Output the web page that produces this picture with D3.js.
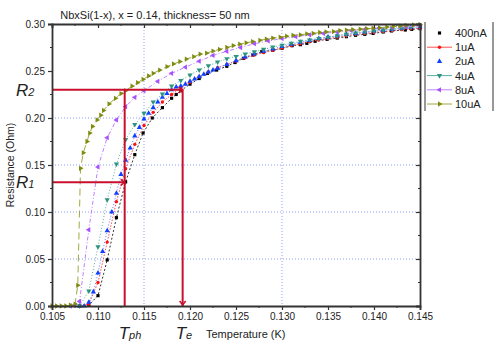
<!DOCTYPE html>
<html>
<head>
<meta charset="utf-8">
<script src="https://cdn.jsdelivr.net/npm/d3@7"></script>
<style>
  body { margin: 0; background: #fff; }
  text { font-family: Arial, "Liberation Sans", sans-serif; fill: #222; }
</style>
</head>
<body>
<div id="chart"></div>
<script>
// Data: [temperature (K), resistance (Ohm)]
var s400nA = [[0.1080,0],[0.1090,0.001],[0.1100,0.011],[0.1110,0.049],[0.1120,0.094],[0.1130,0.132],[0.1140,0.161],
  [0.1149,0.184],[0.1159,0.200],[0.1170,0.211],[0.1180,0.221],[0.1185,0.225],[0.1190,0.229],[0.1200,0.236],[0.1210,0.242],
  [0.1219,0.2475],[0.1229,0.251],[0.1240,0.255],[0.1249,0.259],[0.1258,0.2635],[0.1268,0.267],[0.1278,0.2706],[0.1290,0.272],
  [0.1300,0.2741],[0.1311,0.2769],[0.1320,0.278],[0.1327,0.2794],[0.1336,0.2816],[0.1349,0.2837],[0.1360,0.285],[0.1370,0.2865],
  [0.1380,0.288],[0.1390,0.289],[0.1399,0.290],[0.1410,0.2915],[0.1419,0.2926],[0.1434,0.2936],[0.1441,0.2943],[0.1450,0.295]];

var s1uA = [[0.1080,0],[0.1090,0.002],[0.1100,0.025],[0.1110,0.068],[0.1120,0.111],[0.1130,0.146],[0.1140,0.172],[0.1150,0.192],
  [0.1160,0.206],[0.1170,0.217],[0.1180,0.225],[0.1190,0.232],[0.1200,0.238],[0.1210,0.244],[0.1220,0.249],[0.1230,0.2535],
  [0.1240,0.257],[0.1250,0.2605],[0.1260,0.264],[0.1270,0.267],[0.1280,0.2695],[0.1290,0.272],[0.1300,0.2745],[0.1310,0.277],
  [0.1320,0.279],[0.1330,0.281],[0.1340,0.283],[0.1350,0.2845],[0.1360,0.286],[0.1370,0.2875],[0.1380,0.289],[0.1390,0.290],
  [0.1400,0.291],[0.1410,0.292],[0.1420,0.293],[0.1430,0.294],[0.1440,0.295],[0.1450,0.2955]];

var s2uA = [[0.1080,0],[0.1085,0],[0.1090,0.004],[0.1095,0.015],[0.1100,0.035],[0.1105,0.058],[0.1110,0.080],[0.1115,0.100],
  [0.1120,0.120],[0.1125,0.140],[0.1130,0.155],[0.1135,0.168],[0.1140,0.181],[0.1145,0.190],[0.1150,0.199],[0.1155,0.205],
  [0.1160,0.211],[0.1165,0.217],[0.1170,0.222],[0.1175,0.226],[0.1180,0.230],[0.1185,0.233],[0.1190,0.234],[0.1195,0.236],
  [0.1200,0.239],[0.1205,0.2415],[0.1210,0.244],[0.1215,0.2465],[0.1220,0.249],[0.1225,0.251],[0.1230,0.253],[0.1240,0.257],
  [0.1250,0.261],[0.1260,0.265],[0.1270,0.268],[0.1280,0.271],[0.1290,0.2735],[0.1300,0.276],[0.1310,0.2785],[0.1320,0.2805],
  [0.1330,0.2825],[0.1340,0.2845],[0.1350,0.286],[0.1360,0.2875],[0.1370,0.289],[0.1380,0.290],[0.1390,0.2915],[0.1400,0.2925],
  [0.1410,0.2935],[0.1420,0.2945],[0.1430,0.2955],[0.1440,0.2965],[0.1450,0.297]];

var s4uA = [[0.1080,0],[0.1090,0.016],[0.1100,0.063],[0.1110,0.113],[0.1120,0.151],[0.1130,0.177],[0.1140,0.193],[0.1150,0.205],
  [0.1160,0.217],[0.1170,0.2255],[0.1180,0.234],[0.1190,0.240],[0.1200,0.2457],[0.1210,0.251],[0.1220,0.2555],[0.1230,0.2595],
  [0.1240,0.263],[0.1250,0.2655],[0.1260,0.268],[0.1270,0.2705],[0.1280,0.273],[0.1290,0.2755],[0.1300,0.2775],[0.1310,0.2795],
  [0.1320,0.2815],[0.1330,0.283],[0.1340,0.2845],[0.1350,0.286],[0.1360,0.2875],[0.1370,0.289],[0.1380,0.2905],[0.1390,0.2915],
  [0.1400,0.2925],[0.1410,0.2935],[0.1420,0.2945],[0.1430,0.2955],[0.1440,0.2965],[0.1450,0.297]];

var s8uA = [[0.1070,0],[0.1075,0.001],[0.1080,0.005],[0.1090,0.081],[0.1100,0.148],[0.1110,0.179],[0.1120,0.198],[0.1130,0.212],
  [0.1140,0.222],[0.1150,0.229],[0.1165,0.239],[0.1180,0.2475],[0.1195,0.254],[0.1210,0.2605],[0.1225,0.2665],[0.1240,0.271],
  [0.1255,0.275],[0.1270,0.279],[0.1285,0.282],[0.1300,0.2845],[0.1315,0.2865],[0.1330,0.2885],[0.1345,0.290],[0.1360,0.2915],
  [0.1375,0.293],[0.1390,0.2945],[0.1405,0.2955],[0.1420,0.2965],[0.1435,0.297],[0.1450,0.2978]];

var s10uA = [[0.1050,0],[0.1055,0],[0.1060,0],[0.1065,0],[0.1070,0.001],[0.1075,0.002],[0.1078,0.022],[0.1081,0.1465],
  [0.1084,0.163],[0.1088,0.175],[0.1091,0.184],[0.1094,0.191],[0.1099,0.198],[0.1103,0.203],[0.1106,0.208],[0.1112,0.215],
  [0.1119,0.221],[0.1125,0.226],[0.1130,0.229],[0.1137,0.234],[0.1143,0.2376],[0.1149,0.2412],[0.1155,0.2447],[0.1160,0.2475],
  [0.1167,0.251],[0.1175,0.2546],[0.1182,0.2575],[0.1189,0.260],[0.1196,0.2627],[0.1204,0.2652],[0.1211,0.268],[0.1218,0.269],
  [0.1225,0.2712],[0.1232,0.273],[0.1240,0.275],[0.1247,0.277],[0.1254,0.2785],[0.1261,0.280],[0.1268,0.2813],[0.1276,0.2826],
  [0.1283,0.284],[0.1290,0.285],[0.1298,0.286],[0.1305,0.287],[0.1312,0.288],[0.1320,0.2885],[0.1327,0.2895],[0.1334,0.290],
  [0.1341,0.291],[0.1348,0.2915],[0.1356,0.292],[0.1363,0.293],[0.1370,0.2935],[0.1377,0.294],[0.1385,0.2945],[0.1392,0.295],
  [0.1399,0.2955],[0.1406,0.296],[0.1414,0.2968],[0.1421,0.2975],[0.1428,0.298],[0.1435,0.2985],[0.1443,0.299],[0.1450,0.2995]];

var seriesNames = ["400nA", "1uA", "2uA", "4uA", "8uA", "10uA"];
var xTicks = [0.105, 0.110, 0.115, 0.120, 0.125, 0.130, 0.135, 0.140, 0.145];
var yTicks = [0.00, 0.05, 0.10, 0.15, 0.20, 0.25, 0.30];
var xGrid = [0.115, 0.130];
var yGrid = [0.05, 0.10, 0.15, 0.20];

// annotation values
var R1 = 0.1316, R2 = 0.2300, Tph = 0.1129, Te = 0.1192;

var margin = {top: 24, right: 80, bottom: 44, left: 52},
    width = 500 - margin.left - margin.right,
    height = 350 - margin.top - margin.bottom;

var series = [
  {name: seriesNames[0], values: s400nA, color: "#000000", line: "#333333", dash: "2,2", sym: d3.symbolSquare, size: 10, rot: 0, legendLine: false},
  {name: seriesNames[1], values: s1uA, color: "#ff1010", line: "#ff5050", dash: "1.5,1.5", sym: d3.symbolCircle, size: 9, rot: 0, legendLine: true},
  {name: seriesNames[2], values: s2uA, color: "#1040ff", line: "#6080ff", dash: "1,2", sym: d3.symbolTriangle, size: 12, rot: 0, legendLine: false},
  {name: seriesNames[3], values: s4uA, color: "#2e9480", line: "#55b0a0", dash: "1,2", sym: d3.symbolTriangle, size: 12, rot: 180, legendLine: true},
  {name: seriesNames[4], values: s8uA, color: "#a850ff", line: "#c080ff", dash: "4,2,1,2", sym: d3.symbolTriangle, size: 12, rot: -90, legendLine: true},
  {name: seriesNames[5], values: s10uA, color: "#7f8c10", line: "#a0a840", dash: "7,4", sym: d3.symbolTriangle, size: 12, rot: 90, legendLine: true}
];

var svg = d3.select("#chart").append("svg")
  .attr("width", 500)
  .attr("height", 350);

var g = svg.append("g")
  .attr("transform", "translate(" + margin.left + "," + margin.top + ")");

var x = d3.scaleLinear().domain([0.105, 0.145]).range([0, width]),
    y = d3.scaleLinear().domain([0, 0.30]).range([height, 0]);

// grid
g.selectAll(".gx").data(xGrid).enter().append("line")
  .attr("x1", function(d) { return x(d); }).attr("x2", function(d) { return x(d); })
  .attr("y1", 0).attr("y2", height)
  .attr("stroke", "#8aa0ff").attr("stroke-width", 1).attr("stroke-dasharray", "1,2");
g.selectAll(".gy").data(yGrid).enter().append("line")
  .attr("x1", 0).attr("x2", width)
  .attr("y1", function(d) { return y(d); }).attr("y2", function(d) { return y(d); })
  .attr("stroke", "#8aa0ff").attr("stroke-width", 1).attr("stroke-dasharray", "1,2");

var line = d3.line()
  .x(function(d) { return x(d[0]); })
  .y(function(d) { return y(d[1]); });

var s = g.selectAll(".series").data(series).enter().append("g").attr("class", "series");

s.append("path")
  .attr("d", function(d) { return line(d.values); })
  .attr("fill", "none")
  .attr("stroke", function(d) { return d.line; })
  .attr("stroke-width", 1)
  .attr("stroke-dasharray", function(d) { return d.dash; });

s.each(function(sd) {
  d3.select(this).selectAll("path.pt").data(sd.values).enter().append("path")
    .attr("class", "pt")
    .attr("d", d3.symbol().type(sd.sym).size(sd.size))
    .attr("transform", function(d) { return "translate(" + x(d[0]) + "," + y(d[1]) + ") rotate(" + sd.rot + ")"; })
    .attr("fill", sd.color);
});

// red annotation lines
var red = "#c8102e";
var ann = g.append("g").attr("stroke", red).attr("stroke-width", 2).attr("fill", "none");
ann.append("line").attr("x1", 0).attr("x2", x(Te)).attr("y1", y(R2)).attr("y2", y(R2));
ann.append("line").attr("x1", 0).attr("x2", x(Tph)).attr("y1", y(R1)).attr("y2", y(R1));
ann.append("line").attr("x1", x(Tph)).attr("x2", x(Tph)).attr("y1", y(R2)).attr("y2", height);
ann.append("line").attr("x1", x(Te)).attr("x2", x(Te)).attr("y1", y(R2)).attr("y2", height);
ann.append("path").attr("stroke-width", 1.5)
  .attr("d", "M" + (x(Te) - 3) + "," + (height - 5) + "L" + x(Te) + "," + (height - 1) + "L" + (x(Te) + 3) + "," + (height - 5));
ann.append("path").attr("stroke-width", 1.5)
  .attr("d", "M" + (x(Tph) - 4) + "," + (y(R1) - 3) + "L" + x(Tph) + "," + y(R1) + "L" + (x(Tph) - 4) + "," + (y(R1) + 3));
ann.append("path").attr("stroke-width", 1.5)
  .attr("d", "M" + (x(Te) - 4) + "," + (y(R2) - 3) + "L" + x(Te) + "," + y(R2) + "L" + (x(Te) - 4) + "," + (y(R2) + 3));

// axes
var xAxis = d3.axisBottom(x).tickValues(xTicks).tickFormat(d3.format(".3f")).tickSize(4).tickPadding(3),
    yAxis = d3.axisLeft(y).tickValues(yTicks).tickFormat(d3.format(".2f")).tickSize(4).tickPadding(3);

var xMinor = d3.range(0.1075, 0.145, 0.005),
    yMinor = d3.range(0.025, 0.30, 0.05);

g.append("g").attr("class", "axis").attr("transform", "translate(0," + height + ")").call(xAxis);
g.append("g").attr("class", "axis").call(yAxis);
g.append("g").attr("class", "axis").call(d3.axisTop(x).tickValues(xTicks).tickSize(-4).tickFormat(""));
g.append("g").attr("class", "axis").attr("transform", "translate(" + width + ",0)")
  .call(d3.axisRight(y).tickValues(yTicks).tickSize(-4).tickFormat(""));

// minor ticks
var minor = g.append("g").attr("stroke", "#333").attr("stroke-width", 1);
xMinor.forEach(function(v) {
  minor.append("line").attr("x1", x(v)).attr("x2", x(v)).attr("y1", height).attr("y2", height + 2);
  minor.append("line").attr("x1", x(v)).attr("x2", x(v)).attr("y1", 0).attr("y2", 2);
});
yMinor.forEach(function(v) {
  minor.append("line").attr("x1", 0).attr("x2", -2).attr("y1", y(v)).attr("y2", y(v));
  minor.append("line").attr("x1", width).attr("x2", width - 2).attr("y1", y(v)).attr("y2", y(v));
});

g.selectAll(".axis path").attr("stroke", "#333").attr("stroke-width", 1.8);
g.selectAll(".axis line").attr("stroke", "#333").attr("stroke-width", 1.2);
g.selectAll(".axis text").style("font-size", "10px").style("font-family", "Arial, 'Liberation Sans', sans-serif").attr("fill", "#222");

// titles
svg.append("text").attr("x", 155).attr("y", 19).attr("text-anchor", "middle")
  .style("font-size", "11px").text("NbxSi(1-x), x = 0.14, thickness= 50 nm");
svg.append("text").attr("x", 206).attr("y", 338)
  .style("font-size", "11px").text("Temperature (K)");
svg.append("text").attr("transform", "translate(14," + (margin.top + height / 2) + ") rotate(-90)")
  .attr("text-anchor", "middle").style("font-size", "10.5px").text("Resistance (Ohm)");

function bigLabel(px, py, main, sub) {
  var t = svg.append("text").attr("x", px).attr("y", py).style("font-style", "italic");
  t.append("tspan").style("font-size", "17px").text(main);
  t.append("tspan").style("font-size", "11px").text(sub);
}
bigLabel(16, margin.top + y(R2) + 6, "R", "2");
bigLabel(16, margin.top + y(R1) + 6, "R", "1");
bigLabel(margin.left + x(Tph) - 6, 339, "T", "ph");
bigLabel(margin.left + x(Te) - 7, 339, "T", "e");

// legend
var lx = 425, ly = 33, lstep = 14.2;
var leg = svg.append("g");
leg.append("line").attr("x1", lx).attr("x2", lx).attr("y1", 22).attr("y2", 111).attr("stroke", "#333").attr("stroke-width", 1);
leg.append("line").attr("x1", 493).attr("x2", 493).attr("y1", 22).attr("y2", 111).attr("stroke", "#333").attr("stroke-width", 1);
var li = leg.selectAll(".li").data(series).enter().append("g")
  .attr("transform", function(d, i) { return "translate(0," + (ly + i * lstep) + ")"; });
li.filter(function(d) { return d.legendLine; }).append("line")
  .attr("x1", 427).attr("x2", 452).attr("y1", 0).attr("y2", 0)
  .attr("stroke", function(d) { return d.line; }).attr("stroke-width", 1);
li.append("path")
  .attr("d", function(d) { return d3.symbol().type(d.sym).size(d.size)(); })
  .attr("transform", function(d) { return "translate(439.5,0) rotate(" + d.rot + ")"; })
  .attr("fill", function(d) { return d.color; });
li.append("text").attr("x", 455).attr("y", 4).style("font-size", "11px").text(function(d) { return d.name; });
</script>
</body>
</html>
